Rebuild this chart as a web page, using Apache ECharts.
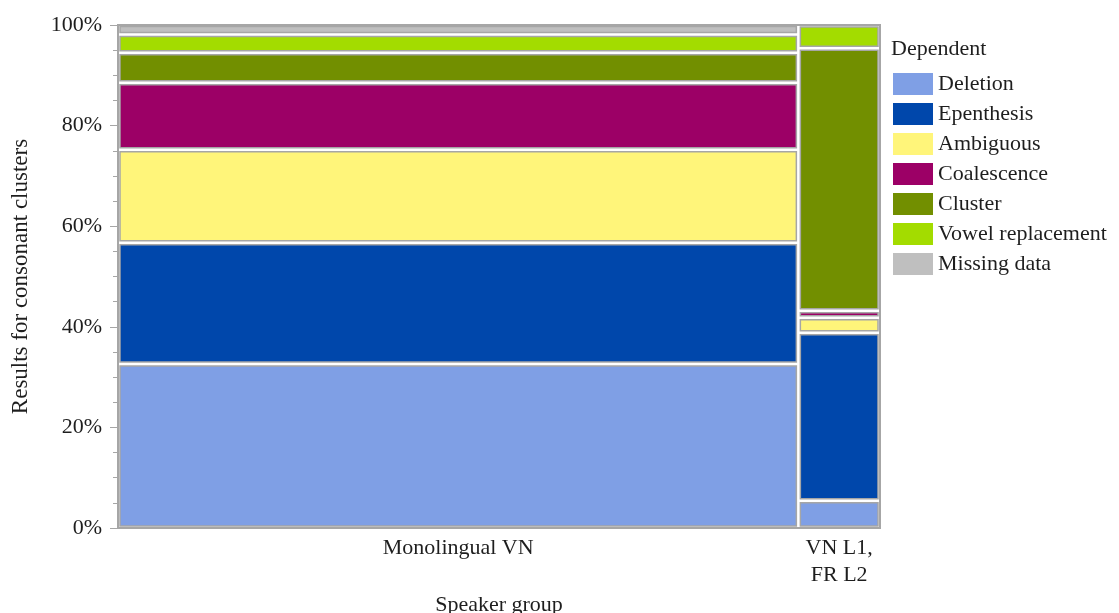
<!DOCTYPE html>
<html>
<head>
<meta charset="utf-8">
<script src="https://cdn.jsdelivr.net/npm/echarts@6/dist/echarts.min.js"></script>
<style>
  html, body { margin: 0; padding: 0; background: #fff; }
  #chart { width: 1119px; height: 613px; }
</style>
</head>
<body>
<div id="chart"></div>
<script>
const groups = ['Monolingual VN', 'VN L1,\nFR L2']
const groupWidths = [25, 3]
const dependents = ['Deletion', 'Epenthesis', 'Ambiguous', 'Coalescence', 'Cluster', 'Vowel replacement', 'Missing data']
const colors = ['#7f9fe5', '#0047ab', '#fff57a', '#9c0066', '#728f00', '#a3dc00', '#bfbfbf']
// percent of consonant clusters per group, bottom to top
const monolingualPct = [32.6, 24.1, 18.5, 13.3, 6.0, 3.6, 2.0]
const bilingualPct = [5.4, 33.4, 3.0, 1.4, 52.2, 4.6, 0]
const yTicks = [0, 20, 40, 60, 80, 100]

const groupPct = [monolingualPct, bilingualPct]
const totalWidth = groupWidths.reduce((a, b) => a + b, 0)
const xStarts = groupWidths.map((w, i) => groupWidths.slice(0, i).reduce((a, b) => a + b, 0))
const xCenters = groupWidths.map((w, i) => xStarts[i] + w / 2)

const serif = "'Liberation Serif', 'DejaVu Serif', serif"
const border = '#a6a6a6'
const ink = '#1e1e1e'

const chart = echarts.init(document.getElementById('chart'))

const series = dependents.map((name, k) => ({
  name,
  type: 'custom',
  itemStyle: { color: colors[k] },
  encode: { x: [0, 1], y: [2, 3] },
  data: groups.map((g, i) => {
    const pct = groupPct[i]
    const y0 = pct.slice(0, k).reduce((a, b) => a + b, 0)
    return [xStarts[i], xStarts[i] + groupWidths[i], y0, y0 + pct[k]]
  }),
  renderItem: (params, api) => {
    if (api.value(3) - api.value(2) <= 0) return
    const p0 = api.coord([api.value(0), api.value(3)])
    const p1 = api.coord([api.value(1), api.value(2)])
    const g = 2
    return {
      type: 'rect',
      shape: {
        x: p0[0] + g,
        y: p0[1] + g,
        width: p1[0] - p0[0] - 2 * g,
        height: Math.max(p1[1] - p0[1] - 2 * g, 0.5)
      },
      style: { fill: api.visual('color'), stroke: border, lineWidth: 1.5 }
    }
  }
}))

chart.setOption({
  animation: false,
  backgroundColor: '#fff',
  textStyle: { fontFamily: serif },
  title: {
    text: 'Dependent',
    left: 886,
    top: 33,
    textStyle: { fontFamily: serif, fontSize: 22, fontWeight: 'normal', color: ink }
  },
  legend: {
    orient: 'vertical',
    left: 888,
    top: 68,
    icon: 'rect',
    itemWidth: 40,
    itemHeight: 22,
    itemGap: 8,
    textStyle: { fontFamily: serif, fontSize: 22, lineHeight: 22, color: ink },
    data: dependents
  },
  grid: {
    left: 118, right: 239, top: 25, bottom: 85,
    outerBoundsMode: 'none',
    show: true, borderColor: border, borderWidth: 2
  },
  xAxis: {
    type: 'value',
    min: 0,
    max: totalWidth,
    name: 'Speaker group',
    nameLocation: 'middle',
    nameGap: 62,
    nameTextStyle: { fontFamily: serif, fontSize: 22, color: ink },
    axisLine: { show: true, lineStyle: { color: border, width: 2 } },
    axisTick: { show: false },
    splitLine: { show: false },
    axisLabel: {
      customValues: xCenters,
      formatter: v => groups[xCenters.indexOf(v)] || '',
      fontFamily: serif, fontSize: 22, color: ink, lineHeight: 27, margin: 7
    }
  },
  yAxis: {
    type: 'value',
    min: 0,
    max: 100,
    interval: 20,
    name: 'Results for consonant clusters',
    nameLocation: 'middle',
    nameGap: 86,
    nameTextStyle: { fontFamily: serif, fontSize: 23, color: ink },
    axisLine: { show: true, lineStyle: { color: border, width: 2 } },
    axisTick: { show: true, length: 8, lineStyle: { color: border } },
    minorTick: { show: true, splitNumber: 4, length: 5, lineStyle: { color: border } },
    splitLine: { show: false },
    axisLabel: {
      formatter: v => yTicks.includes(v) ? v + '%' : '',
      fontFamily: serif, fontSize: 22, color: ink, margin: 16
    }
  },
  series
})
</script>
</body>
</html>
